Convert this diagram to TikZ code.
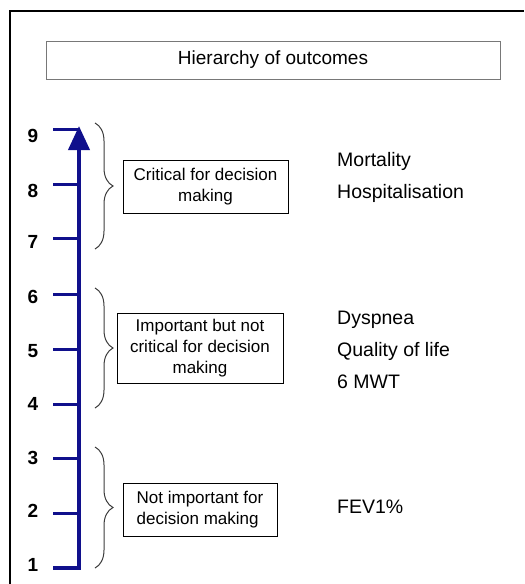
\documentclass[tikz,border=0pt]{standalone}
\usepackage{fontspec}
\setmainfont{Liberation Sans}
\usetikzlibrary{decorations.pathreplacing,arrows.meta}
\definecolor{axisblue}{RGB}{16,16,140}
\definecolor{bracegray}{RGB}{60,60,60}
\definecolor{titlegray}{RGB}{120,120,120}
\begin{document}
\begin{tikzpicture}[x=1pt,y=-1pt,
  frame/.style={line width=2.4pt,black},
  axisline/.style={line width=4pt,axisblue,line join=miter},
  tickline/.style={line width=3pt,axisblue},
  num/.style={font=\fontsize{19}{22}\selectfont\bfseries,anchor=center},
  catbox/.style={draw=black,line width=0.9pt,font=\fontsize{17}{21}\selectfont,inner sep=2pt},
  outtext/.style={font=\fontsize{19.5}{23}\selectfont,anchor=base west,inner sep=0pt},
  bracepath/.style={draw=bracegray,line width=1pt,decorate,decoration={brace,amplitude=18pt,aspect=0.5}}
]
\useasboundingbox (0,0) rectangle (525,584);
% outer frame
\draw[frame] (10,584) -- (10,11) -- (524,11);
% title
\node[draw=titlegray,line width=0.8pt,minimum width=454pt,minimum height=38pt,inner sep=0pt,
      font=\fontsize{19}{23}\selectfont] (title) at (273,60) {Hierarchy of outcomes};
% axis coordinates
\coordinate (t1) at (79,568);
\coordinate (t2) at (79,513);
\coordinate (t3) at (79,458);
\coordinate (t4) at (79,404);
\coordinate (t5) at (79,349);
\coordinate (t6) at (79,294);
\coordinate (t7) at (79,238);
\coordinate (t8) at (79,184);
\coordinate (t9) at (79,129);
\coordinate (top) at (79,126);
\coordinate (s1) at (53,568);
% axis with arrow
\draw[axisline,-{Triangle[length=24pt,width=21pt]}] (s1) -- (t1) -- (top);
% ticks
\foreach \i in {2,...,9} \draw[tickline] (t\i) -- ++(-26,0);
% numbers
\node[num] (n9) at (33,136) {9};
\node[num] (n8) at (33,191) {8};
\node[num] (n7) at (33,242) {7};
\node[num] (n6) at (33,297) {6};
\node[num] (n5) at (33,351) {5};
\node[num] (n4) at (33,404) {4};
\node[num] (n3) at (33,458) {3};
\node[num] (n2) at (33,511) {2};
\node[num] (n1) at (33,565) {1};
% braces
\coordinate (b1a) at (95,123); \coordinate (b1b) at (95,249);
\coordinate (b2a) at (95,288); \coordinate (b2b) at (95,408);
\coordinate (b3a) at (95,447); \coordinate (b3b) at (95,568);
\draw[bracepath] (b1a) -- (b1b);
\draw[bracepath] (b2a) -- (b2b);
\draw[bracepath] (b3a) -- (b3b);
% category boxes
\node[catbox,minimum width=165pt,minimum height=53pt,align=center] (c1) at (205.5,186.5)
  {Critical for decision\\making};
\node[catbox,minimum width=166pt,minimum height=70pt,align=center] (c2) at (200,348)
  {Important but not\\critical for decision\\making};
\node[catbox,minimum width=154pt,minimum height=53pt,align=left] (c3) at (200,509.5)
  {Not important for\\decision making};
% outcomes
\node[outtext] (o1) at (337,166) {Mortality};
\node[outtext] (o2) at (337,198) {Hospitalisation};
\node[outtext] (o3) at (337,324) {Dyspnea};
\node[outtext] (o4) at (337,356) {Quality of life};
\node[outtext] (o5) at (337,388) {6 MWT};
\node[outtext] (o6) at (337,513) {FEV1\%};
\end{tikzpicture}
\end{document}
